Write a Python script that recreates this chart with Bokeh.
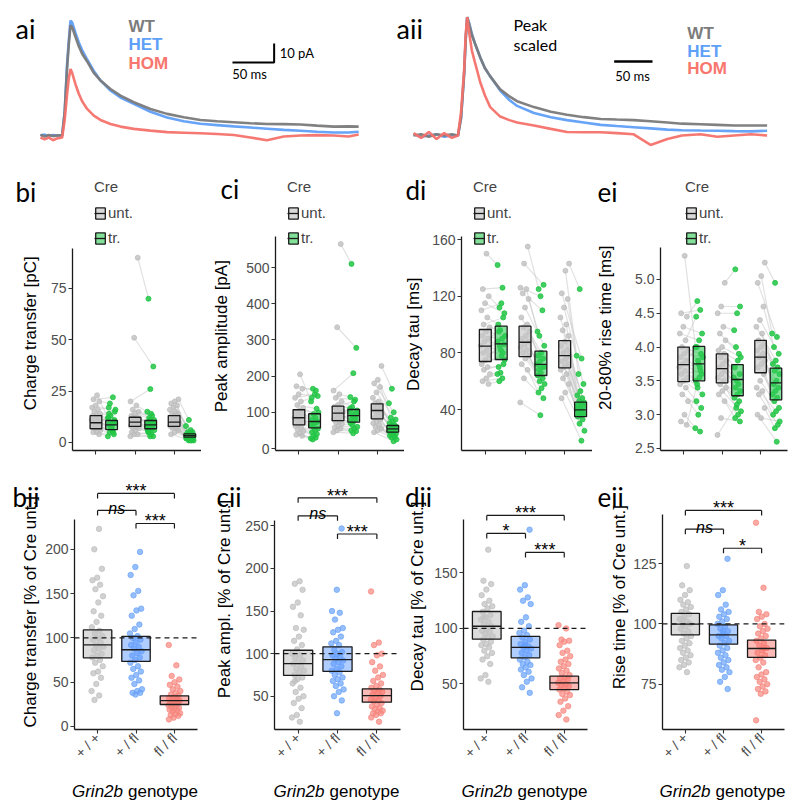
import math
from bokeh.plotting import figure
from bokeh.models import (Range1d, FixedTicker, Span, Label, Legend, LegendItem,
                          PrintfTickFormatter)
from bokeh.layouts import column, row
from bokeh.embed import file_html
from bokeh.resources import INLINE
from bokeh.core.properties import value

# ---------------------------------------------------------------- data
genotypes = ["+ / +", "+ / fl", "fl / fl"]
trace_names = ["WT", "HET", "HOM"]

# ai: mean traces (time in ms, current in pA)
ai_t = [0, 5, 10, 15, 20, 26, 29, 32, 34, 36, 38, 42, 46, 50, 56, 64, 72, 84, 96, 112,
        132, 152, 172, 192, 212, 232, 252, 272, 292, 312, 332, 352, 370, 382]
ai_wt = [0.5, -0.5, 0.3, -0.3, 0, 0, 12, 36, 48, 58, 57, 52, 47, 43, 39, 33, 29, 24.5, 21, 17.5,
         14, 11.4, 9.6, 8.2, 7.5, 7, 6.5, 6.1, 6, 5.8, 5.2, 4.7, 4.8, 4.7]
ai_het = [0, 0.5, -0.5, 0.3, 0, 0.2, 12, 38, 50, 60.5, 59.5, 54, 49, 45, 40, 34, 29, 23.7, 20, 16.7,
          12.5, 9.5, 7.5, 6.2, 5.5, 4.8, 4.2, 3.6, 3, 2.5, 2, 1.6, 1.6, 2]
ai_hom = [-1, -2, -1, -2.5, -1.5, -1, 8, 22, 30, 35, 33, 27, 22, 18, 14, 10.5, 8.2, 6.1, 4.7, 3.5,
          2.6, 1.8, 1.5, 1.2, 0.8, 0.3, -1, -2.5, -0.5, 0, 0.2, 0, -0.5, 0.5]

# aii: peak-scaled traces (time in ms, normalised)
aii_t = [0, 10, 20, 30, 40, 50, 58, 62, 66, 68, 70, 73, 76, 80, 87, 93, 100, 113, 125, 135,
         157, 179, 200, 222, 244, 265, 287, 309, 331, 350, 374, 396, 418, 440, 461]
aii_wt = [0, 0.01, -0.01, 0.01, 0, 0.01, 0, 0.15, 0.52, 0.8, 1.0, 0.93, 0.85, 0.78, 0.66, 0.57, 0.5,
          0.39, 0.33, 0.29, 0.24, 0.2, 0.175, 0.155, 0.14, 0.135, 0.13, 0.12, 0.11, 0.1, 0.095,
          0.09, 0.085, 0.085, 0.085]
aii_het = [0.01, -0.01, 0, 0.01, -0.01, 0, 0, 0.15, 0.52, 0.82, 1.0, 0.94, 0.86, 0.78, 0.66, 0.57,
           0.5, 0.38, 0.3, 0.25, 0.19, 0.155, 0.13, 0.11, 0.09, 0.08, 0.07, 0.06, 0.05, 0.045,
           0.042, 0.04, 0.037, 0.035, 0.04]
aii_hom = [0.02, -0.02, 0.03, -0.03, 0.02, -0.02, 0, 0.2, 0.55, 0.85, 1.0, 0.85, 0.72, 0.62, 0.45,
           0.34, 0.24, 0.16, 0.13, 0.11, 0.085, 0.056, 0.03, 0.028, 0.028, 0.02, 0.01, -0.08,
           -0.03, 0, 0.01, -0.01, 0, 0.01, 0]

# middle row: paired values per genotype (Cre untransfected / transfected)
bi_unt = [[23, 21, 20, 18, 17, 16, 15, 14, 13, 13, 12, 11, 11, 10, 10, 9, 9, 8, 8, 7, 6, 5, 5, 4],
          [90, 51, 20, 18, 16, 15, 14, 13, 12, 12, 11, 10, 10, 9, 9, 8, 8, 7, 7, 6, 5, 4, 4, 3],
          [21, 20, 19, 18, 17, 16, 15, 14, 14, 13, 12, 12, 11, 10, 10, 9, 9, 8, 8, 7, 7, 6, 5, 4]]
bi_tr = [[12, 22, 19, 15, 8, 17, 10, 13, 16, 6, 9, 11, 7, 12, 5, 8, 10, 6, 14, 4, 7, 3, 9, 5],
         [70, 37, 26, 15, 13, 12, 11, 14, 10, 9, 11, 8, 10, 7, 9, 8, 6, 7, 5, 6, 4, 5, 3, 3],
         [11, 8, 6, 5, 5, 4, 4, 4, 3, 3, 3, 3, 3, 3, 2, 2, 2, 2, 2, 2, 1, 1, 1, 1]]
ci_unt = [[205, 172, 165, 150, 140, 130, 120, 112, 105, 100, 95, 90, 85, 80, 78, 72, 68, 62, 58, 52, 48, 42, 38, 35],
          [565, 335, 160, 150, 140, 130, 120, 115, 110, 105, 100, 95, 90, 88, 85, 80, 75, 72, 68, 62, 58, 55, 50, 45],
          [228, 190, 180, 170, 155, 140, 130, 125, 120, 115, 110, 105, 100, 95, 90, 85, 80, 75, 70, 65, 60, 55, 50, 45]]
ci_tr = [[130, 160, 165, 145, 150, 140, 110, 95, 100, 85, 80, 75, 70, 65, 72, 60, 55, 50, 45, 40, 35, 28, 30, 25],
         [510, 278, 208, 142, 135, 115, 105, 130, 100, 95, 90, 110, 85, 80, 95, 75, 70, 80, 65, 60, 55, 50, 48, 42],
         [165, 125, 100, 85, 80, 75, 70, 65, 62, 60, 58, 55, 52, 50, 48, 45, 42, 40, 38, 35, 32, 30, 25, 20]]
di_unt = [[150, 125, 120, 115, 110, 105, 100, 98, 95, 92, 90, 88, 85, 82, 80, 78, 75, 72, 70, 68, 65, 62, 60, 58],
          [155, 143, 126, 125, 122, 118, 112, 105, 100, 98, 95, 92, 90, 88, 86, 84, 82, 80, 78, 76, 72, 68, 62, 45],
          [143, 138, 122, 118, 112, 105, 100, 96, 92, 88, 85, 82, 80, 78, 76, 74, 72, 70, 68, 65, 62, 58, 52, 48]]
di_tr = [[142, 126, 112, 108, 115, 100, 105, 96, 92, 90, 95, 86, 82, 88, 80, 85, 75, 78, 70, 72, 66, 65, 62, 60],
         [125, 128, 120, 95, 110, 92, 85, 80, 78, 76, 74, 72, 70, 68, 70, 66, 64, 62, 60, 58, 55, 52, 48, 36],
         [125, 78, 76, 65, 58, 53, 50, 48, 46, 45, 44, 43, 42, 41, 40, 39, 38, 37, 36, 35, 33, 30, 25, 18]]
ei_unt = [[5.35, 4.5, 4.45, 4.3, 4.2, 4.1, 4.0, 3.95, 3.9, 3.85, 3.8, 3.75, 3.7, 3.65, 3.6, 3.55, 3.5, 3.45, 3.4, 3.3, 3.2, 3.0, 2.9, 2.85],
          [4.95, 4.6, 4.5, 4.3, 4.2, 4.1, 4.0, 3.95, 3.9, 3.85, 3.8, 3.75, 3.7, 3.65, 3.6, 3.55, 3.5, 3.45, 3.4, 3.35, 3.3, 3.2, 2.95, 2.7],
          [5.25, 5.05, 4.95, 4.6, 4.4, 4.3, 4.2, 4.1, 4.05, 4.0, 3.95, 3.9, 3.85, 3.8, 3.75, 3.7, 3.6, 3.5, 3.4, 3.35, 3.3, 3.1, 2.95, 3.0]]
ei_tr = [[4.0, 4.55, 4.68, 4.2, 4.1, 4.45, 3.9, 3.8, 3.85, 3.7, 4.0, 3.6, 3.75, 3.5, 3.65, 3.4, 3.3, 3.55, 3.2, 3.1, 3.0, 2.8, 2.75, 3.45],
         [5.15, 4.6, 4.5, 4.25, 3.9, 4.0, 3.85, 3.8, 3.7, 3.6, 3.5, 3.55, 3.45, 3.4, 3.35, 3.3, 3.25, 3.2, 3.1, 3.05, 3.0, 2.95, 2.9, 3.15],
         [4.95, 4.2, 4.15, 4.0, 3.9, 3.8, 3.75, 3.7, 3.65, 3.6, 3.5, 3.45, 3.4, 3.35, 3.3, 3.25, 3.2, 3.1, 3.05, 3.0, 2.85, 2.8, 2.9, 2.6]]

# crossbars (lower, middle, upper)
bi_box_unt = [(6.7, 9.6, 13.1), (7.8, 9.9, 12.3), (7.8, 9.9, 13.1)]
bi_box_tr = [(6.3, 8.6, 10.7), (6.7, 8.6, 10.7), (2.6, 3.3, 4.2)]
ci_box_unt = [(65.5, 85, 107), (77, 97.5, 117), (82, 105, 123.5)]
ci_box_tr = [(57, 74.6, 96), (72.7, 91, 107.7), (45, 54.4, 63.5)]
di_box_unt = [(73.9, 84.7, 96.5), (77.4, 87.5, 98.8), (69.4, 78.1, 88.7)]
di_box_tr = [(75.3, 86.4, 98.8), (64, 71.8, 81.2), (35, 39.8, 45.2)]
ei_box_unt = [(3.49, 3.74, 4.0), (3.47, 3.68, 3.9), (3.62, 3.85, 4.1)]
ei_box_tr = [(3.5, 3.75, 4.01), (3.28, 3.52, 3.74), (3.22, 3.47, 3.69)]

# bottom row: transfected cells, % of Cre untransfected
bii_vals = [[223, 200, 178, 168, 165, 160, 155, 147, 140, 130, 125, 118, 112, 108, 105, 102, 100, 98, 95, 92, 90, 88, 86, 82, 80, 78, 75, 72, 68, 62, 60, 55, 48, 40, 35, 30],
            [197, 180, 171, 153, 148, 133, 131, 125, 115, 110, 105, 102, 100, 98, 95, 92, 90, 88, 85, 83, 80, 78, 75, 72, 68, 65, 62, 58, 55, 52, 48, 42, 40, 38, 38, 36],
            [92, 69, 57, 53, 50, 47, 45, 42, 40, 38, 36, 35, 33, 32, 31, 30, 29, 28, 27, 26, 25, 24, 23, 22, 21, 20, 19, 18, 17, 15, 14, 13, 12, 10, 8, 30]]
cii_vals = [[185, 182, 175, 160, 155, 145, 130, 128, 120, 115, 110, 105, 100, 98, 95, 92, 90, 88, 85, 82, 80, 78, 75, 72, 70, 65, 60, 55, 50, 47, 42, 36, 28, 25, 20, 68],
            [247, 175, 150, 148, 140, 130, 128, 125, 120, 115, 112, 110, 105, 102, 100, 98, 96, 94, 92, 90, 88, 85, 82, 80, 78, 75, 72, 70, 68, 65, 62, 58, 55, 50, 45, 30],
            [173, 113, 110, 100, 98, 90, 85, 80, 75, 72, 68, 65, 62, 60, 58, 56, 55, 54, 52, 50, 48, 46, 45, 44, 42, 40, 38, 36, 35, 33, 32, 30, 30, 28, 25, 20]]
dii_vals = [[171, 143, 140, 135, 130, 125, 122, 120, 118, 115, 112, 110, 108, 106, 104, 102, 100, 98, 97, 95, 93, 92, 90, 88, 86, 85, 83, 80, 78, 75, 72, 68, 58, 55, 52, 110],
            [189, 139, 135, 128, 125, 122, 110, 106, 102, 98, 96, 94, 92, 90, 88, 86, 84, 83, 82, 80, 78, 76, 74, 72, 70, 68, 67, 65, 63, 61, 58, 55, 52, 47, 42, 85],
            [103, 100, 90, 89, 88, 85, 80, 78, 75, 72, 70, 68, 66, 64, 62, 60, 58, 56, 55, 54, 52, 51, 50, 49, 48, 46, 45, 43, 41, 40, 37, 34, 30, 26, 22, 18]]
eii_vals = [[124, 116, 114, 112, 110, 109, 108, 107, 106, 105, 104, 103, 102, 101, 100, 100, 99, 98, 97, 96, 95, 94, 93, 92, 91, 90, 89, 88, 87, 86, 85, 84, 83, 82, 80, 102],
            [127, 114, 112, 108, 106, 105, 104, 103, 102, 101, 100, 99, 98, 97, 96, 95, 95, 94, 93, 92, 91, 90, 89, 88, 87, 86, 85, 84, 83, 82, 81, 80, 78, 76, 73, 97],
            [142, 115, 105, 104, 103, 102, 100, 99, 98, 97, 96, 95, 94, 93, 92, 91, 90, 89, 88, 87, 86, 85, 84, 82, 80, 79, 78, 77, 76, 75, 74, 73, 72, 71, 60, 90]]
bii_box = [(77.5, 92.2, 109), (73.4, 86.6, 101.6), (24.8, 29.3, 34.6)]
cii_box = [(74.4, 88.2, 104), (79.2, 93, 108), (43, 50.8, 58.7)]
dii_box = [(90.4, 102, 115.3), (73.6, 82.9, 92.8), (45, 51, 57)]
eii_box = [(95.5, 99.9, 104.4), (91.6, 95.5, 99.6), (86.1, 89.8, 93.3)]

# significance brackets: (group a, group b, bracket height, label)
bii_sig = [(1, 3, 263, "***"), (1, 2, 243.8, "ns"), (2, 3, 229.1, "***")]
cii_sig = [(1, 3, 283, "***"), (1, 2, 261.8, "ns"), (2, 3, 240.5, "***")]
dii_sig = [(1, 3, 201.8, "***"), (1, 2, 185.6, "*"), (2, 3, 168.5, "***")]
eii_sig = [(1, 3, 147.1, "***"), (1, 2, 139.3, "ns"), (2, 3, 131.4, "*")]

# ---------------------------------------------------------------- style / layout
FONT = "Liberation Sans"
TAGFONT = "Lato"
GX = [1, 2, 3]
DODGE = 0.4
TRACE_COL = ["#7a7a7a", "#5f9ef7", "#f4726a"]
TEXT_COL = ["#7c7c7c", "#5e9ff8", "#f7766d"]
PT_COL = ["#bdbdbd", "#6aa3f8", "#f7867d"]
BOX_COL = ["#c4c4c4", "#619CFF", "#F8766D"]
BOX_ALPHA = [0.6, 0.5, 0.5]
TOP_H, MID_H, BOT_H, LAB_H = 155, 307, 315, 29
COL_W = [201, 203, 188, 203]
AX_W = 30                      # space kept for the y tick labels
MID_LAB = [42, 42, 25, 38]     # width of the strip left of each y axis (middle row)
BOT_LAB = [42, 41, 27, 38]     # same, bottom row
MID_BR = [0, 0, 0, 8]
BOT_BR = [4, 4, 5, 11]


def jit(n, w, phase):
    return [(((i + 1) * 0.6180339887 + phase) % 1.0 - 0.5) * 2.0 * w for i in range(n)]


def base_fig(w, h, xr, yr, bl, br, bt, bb, axes=True):
    kw = dict(width=w, height=h, x_range=Range1d(*xr), y_range=Range1d(*yr),
              output_backend="svg", toolbar_location=None,
              min_border_left=bl, min_border_right=br, min_border_top=bt, min_border_bottom=bb)
    if not axes:
        kw.update(x_axis_location=None, y_axis_location=None)
    p = figure(**kw)
    p.grid.visible = False
    p.outline_line_color = None
    p.background_fill_color = "white"
    p.border_fill_color = "white"
    for ax in p.axis:
        ax.axis_line_color = "#1a1a1a"
        ax.axis_line_width = 1.3
        ax.major_tick_line_color = "#333333"
        ax.major_tick_line_width = 1.1
        ax.major_tick_out = 4
        ax.major_tick_in = 0
        ax.minor_tick_line_color = None
        ax.major_label_text_font = FONT
        ax.major_label_text_font_size = "14px"
        ax.major_label_text_color = "#4d4d4d"
        ax.major_label_standoff = 2
    return p


def label(p, x, y, text, size, font=FONT, style="normal", color="black", align="left",
          baseline="alphabetic", xu="data", yu="data"):
    p.add_layout(Label(x=x, y=y, x_units=xu, y_units=yu, text=text, text_font=font,
                       text_font_size=size, text_font_style=style, text_color=color,
                       text_align=align, text_baseline=baseline))


def ptext(p, x, y, text, size, font=FONT, style="normal", align="left", baseline="alphabetic",
          angle=0.0):
    p.text(x=[x], y=[y], text=[text], text_align=align, text_baseline=baseline,
           text_font=value(font), text_font_size=value(size), text_font_style=style,
           text_color="black", angle=angle)


def side_strip(w, h, tag, tag_xy, ytext, yl_xy):
    """Narrow strip left of a y axis carrying the panel tag and the rotated axis title."""
    p = base_fig(w, h, (0, w), (0, h), 0, 0, 0, 0, axes=False)
    ptext(p, tag_xy[0], tag_xy[1], tag, "26px", font=TAGFONT)
    ptext(p, yl_xy[0], yl_xy[1], ytext, "17px", align="center", baseline="middle",
          angle=math.pi / 2)
    return p


# ---------------------------------------------------------------- traces
def trace_panel(w, xr, yr, t, series, tag, tagx, name_x, name_y, bar, ms_xy):
    p = base_fig(w, TOP_H, xr, yr, 0, 0, 0, 0, axes=False)
    for k in (1, 0, 2):
        p.line(t, series[k], line_color=TRACE_COL[k], line_width=2.6, line_alpha=0.95)
    for k, nm in enumerate(trace_names):
        label(p, name_x, name_y[k], nm, "17px", style="bold", color=TEXT_COL[k], baseline="middle")
    bx, by, bdx, bdy = bar
    if bdy:
        p.line([bx - bdx, bx, bx], [by, by, by + bdy], line_color="black", line_width=2)
        label(p, bx + 5.5 * (xr[1] - xr[0]) / w, by + bdy / 2, "10 pA", "13px", font=TAGFONT,
              baseline="middle")
    else:
        p.line([bx - bdx, bx], [by, by], line_color="black", line_width=2.4)
    label(p, ms_xy[0], ms_xy[1], "50 ms", "13px", font=TAGFONT, align="center", baseline="middle")
    label(p, tagx, 127, tag, "27px", font=TAGFONT, xu="screen", yu="screen")
    return p


pa = trace_panel(390, (-48.0, 420.2), (-10.5, 71.05), ai_t, [ai_wt, ai_het, ai_hom], "ai", 15,
                 105.6, [57.2, 48.0, 38.0], (280.5, 38.4, 50, 10), (251, 32.6))
pb = trace_panel(405, (-30.0, 498.0), (-0.169, 1.141), aii_t, [aii_wt, aii_het, aii_hom], "aii", 6,
                 357, [0.862, 0.71, 0.566], (311.6, 0.625, 50, 0), (285.5, 0.507))
label(pb, 130.4, 0.938, "Peak", "16px", font=TAGFONT, baseline="middle")
label(pb, 130.4, 0.769, "scaled", "16px", font=TAGFONT, baseline="middle")


# ---------------------------------------------------------------- middle row
def mid_panel(c, yview, ylim, yticks, ytext, yl_xy, unt, tr, box_u, box_t, tag, tag_xy,
              legx, fmt=None):
    w = COL_W[c] - MID_LAB[c]
    p = base_fig(w, MID_H, (0.4, 3.7), yview, AX_W, MID_BR[c], 5, 12)
    p.xaxis.ticker = FixedTicker(ticks=GX)
    p.xaxis.major_label_overrides = {1: "", 2: "", 3: ""}
    p.xaxis.major_label_standoff = 0
    p.yaxis.ticker = FixedTicker(ticks=yticks)
    p.yaxis.bounds = ylim
    if fmt:
        p.yaxis.formatter = PrintfTickFormatter(format=fmt)
    xu_all, yu_all, xt_all, yt_all = [], [], [], []
    for g in range(3):
        n = len(unt[g])
        xu_all += [GX[g] + d for d in jit(n, 0.12, 0.17 * g)]
        xt_all += [GX[g] + DODGE + d for d in jit(n, 0.10, 0.43 + 0.17 * g)]
        yu_all += unt[g]
        yt_all += tr[g]
    p.segment(xu_all, yu_all, xt_all, yt_all, line_color="#c8c8c8", line_alpha=0.55, line_width=1.2)
    p.scatter(xu_all, yu_all, size=5, color="#bcbcbc", alpha=0.75)
    p.scatter(xt_all, yt_all, size=5, color="#22c645", alpha=0.85)
    bw = 0.15
    ru = p.quad(left=[x - bw for x in GX], right=[x + bw for x in GX],
                bottom=[b[0] for b in box_u], top=[b[2] for b in box_u],
                fill_color="#c6c6c6", fill_alpha=0.65, line_color="#1a1a1a", line_width=1.3)
    mu = p.segment([x - bw for x in GX], [b[1] for b in box_u], [x + bw for x in GX],
                   [b[1] for b in box_u], line_color="#1a1a1a", line_width=1.3)
    xt = [x + DODGE for x in GX]
    rt = p.quad(left=[x - bw for x in xt], right=[x + bw for x in xt],
                bottom=[b[0] for b in box_t], top=[b[2] for b in box_t],
                fill_color="#2ecc55", fill_alpha=0.6, line_color="#1a1a1a", line_width=1.3)
    mt = p.segment([x - bw for x in xt], [b[1] for b in box_t], [x + bw for x in xt],
                   [b[1] for b in box_t], line_color="#1a1a1a", line_width=1.3)
    leg = Legend(items=[LegendItem(label=value("unt."), renderers=[ru, mu]),
                        LegendItem(label=value("tr."), renderers=[rt, mt])],
                 title="Cre", location=(legx, 204), orientation="vertical",
                 glyph_width=12, glyph_height=14, label_standoff=2, spacing=8, padding=0,
                 margin=0, border_line_color=None, background_fill_alpha=0,
                 label_text_font=FONT, label_text_font_size="15px", label_height=14,
                 title_text_font=FONT, title_text_font_size="15px",
                 title_text_font_style="normal", title_standoff=9)
    p.add_layout(leg)
    strip = side_strip(MID_LAB[c], MID_H, tag, tag_xy, ytext, yl_xy)
    return row(strip, p)


m1 = mid_panel(0, (-3.9, 137.3), (-3.9, 94.5), [0, 25, 50, 75], "Charge transfer [pC]", (30, 124),
               bi_unt, bi_tr, bi_box_unt, bi_box_tr, "bi", (15, 274), 22)
m2 = mid_panel(1, (-5.5, 795.6), (-5.5, 585.6), [0, 100, 200, 300, 400, 500],
               "Peak amplitude [pA]", (20, 121),
               ci_unt, ci_tr, ci_box_unt, ci_box_tr, "ci", (19, 277), 12)
m3 = mid_panel(2, (11.06, 215.8), (11.06, 162.1), [40, 80, 120, 160], "Decay tau [ms]", (9, 123),
               di_unt, di_tr, di_box_unt, di_box_tr, "di", (1, 276), 12)
m4 = mid_panel(3, (2.47, 6.76), (2.47, 5.473), [2.5, 3.0, 3.5, 4.0, 4.5, 5.0],
               "20-80% rise time [ms]", (13, 130),
               ei_unt, ei_tr, ei_box_unt, ei_box_tr, "ei", (5, 274), 25, fmt="%.1f")


# ---------------------------------------------------------------- bottom row
def bot_panel(c, yview, ylim, yticks, ytext, yl_xy, vals, box, sig, tag, tag_xy):
    w = COL_W[c] - BOT_LAB[c]
    p = base_fig(w, BOT_H, (0.4, 3.6), yview, AX_W, BOT_BR[c], 5, 48)
    frame_h = BOT_H - 5 - 48
    ppu = frame_h / (yview[1] - yview[0])
    p.xaxis.ticker = FixedTicker(ticks=GX)
    p.xaxis.major_label_overrides = {1: genotypes[0], 2: genotypes[1], 3: genotypes[2]}
    p.xaxis.major_label_orientation = math.pi / 4
    p.yaxis.ticker = FixedTicker(ticks=yticks)
    p.yaxis.bounds = ylim
    for g in range(3):
        n = len(vals[g])
        xs = [GX[g] + d for d in jit(n, 0.16, 0.21 * g)]
        p.scatter(xs, vals[g], size=5.5, color=PT_COL[g], alpha=0.7)
    bw = 0.37
    for g in range(3):
        p.quad(left=[GX[g] - bw], right=[GX[g] + bw], bottom=[box[g][0]], top=[box[g][2]],
               fill_color=BOX_COL[g], fill_alpha=BOX_ALPHA[g], line_color="#1a1a1a", line_width=1.3)
    p.segment([x - bw for x in GX], [b[1] for b in box], [x + bw for x in GX], [b[1] for b in box],
              line_color="#1a1a1a", line_width=1.3)
    p.add_layout(Span(location=100, dimension="width", line_color="#1a1a1a", line_width=1.3,
                      line_dash="5 4"))
    leg = 5 / ppu
    for a, b, yy, txt in sig:
        p.segment([a, a, b], [yy, yy - leg, yy - leg], [b, a, b], [yy, yy, yy],
                  line_color="#1a1a1a", line_width=1.2)
        ptext(p, (a + b) / 2, yy + 2 / ppu, txt, "16px" if txt == "ns" else "18px",
              style="italic" if txt == "ns" else "normal", align="center")
    strip = side_strip(BOT_LAB[c], BOT_H, tag, tag_xy, ytext, yl_xy)
    return row(strip, p)


b1 = bot_panel(0, (-3.4, 292.3), (-3.4, 233.6), [0, 50, 100, 150, 200],
               "Charge transfer [% of Cre unt.]", (30, 141.5), bii_vals, bii_box, bii_sig, "bii", (12, 280))
b2 = bot_panel(1, (10.9, 318.6), (10.9, 256), [50, 100, 150, 200, 250],
               "Peak ampl. [% of Cre unt.]", (23, 157), cii_vals, cii_box, cii_sig, "cii", (15, 280))
b3 = bot_panel(2, (9.0, 245.0), (9.0, 198.2), [50, 100, 150],
               "Decay tau [% of Cre unt.]", (13, 160), dii_vals, dii_box, dii_sig, "dii", (0.5, 280))
b4 = bot_panel(3, (56.2, 164.9), (56.2, 145.5), [75, 100, 125],
               "Rise time [% of Cre unt.]", (27, 159), eii_vals, eii_box, eii_sig, "eii", (5, 280))


# ---------------------------------------------------------------- x-axis titles (row below)
def xtitle(c):
    w = COL_W[c]
    p = base_fig(w, LAB_H, (0, w), (0, LAB_H), 0, 0, 0, 0, axes=False)
    left = BOT_LAB[c] + AX_W
    cx = left + (w - left - BOT_BR[c]) / 2.0
    ptext(p, cx - 12, 15, "Grin2b", "17px", style="italic", align="right")
    ptext(p, cx - 7, 15, "genotype", "17px", align="left")
    return p


t_row = [xtitle(c) for c in range(4)]

layout = column(row(pa, pb), row(m1, m2, m3, m4), row(b1, b2, b3, b4), row(*t_row))
open("out.html", "w").write(file_html(layout, INLINE))
